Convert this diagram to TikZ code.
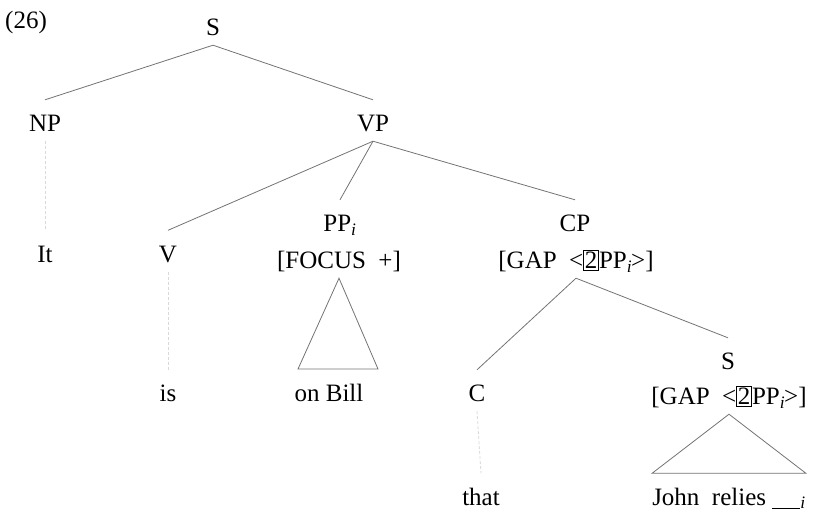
\documentclass[tikz,border=0pt]{standalone}
\usepackage{fontspec}
\setmainfont{Liberation Serif}
\usepackage{tikz}
\setlength{\fboxsep}{1pt}
\setlength{\fboxrule}{0.6pt}
\newcommand{\idx}{\textsubscript{\textit{i}}}
\newcommand{\gapfeat}{[GAP\ \ <\fbox{2}PP\idx\kern-1pt>]}

\begin{document}
\begin{tikzpicture}[x=1pt,y=-1pt,every node/.style={font=\fontsize{25}{30}\selectfont,anchor=base,text height=24pt,text depth=2pt,inner xsep=0pt,inner ysep=7.5pt},branch/.style={draw=black!55,line width=0.8pt},unary/.style={draw=black!15,line width=0.8pt,densely dashed}]
  \useasboundingbox (0,0) rectangle (816,512);
  %top
  \node[anchor=base west] (num) at (5,28) {(26)};
  \node (s) at (213,35.5) {S};
  \node (np) at (45,131.5) {NP};
  \node (vp) at (373,131.5) {VP};
  \draw[branch] (s.south) -- (np.north);
  \draw[branch] (s.south) -- (vp.north);

  %left
  \node (it) at (45,262) {It};
  \node (v) at (168,262) {V};
  \node (is) at (168,401.5) {is};
  \draw[unary] (np.south) -- (it.north);
  \draw[branch] (vp.south) -- (v.north);
  \draw[unary] (v.south) -- (is.north);

  %middle
  \node (pp) at (340,231.5) {PP\idx};
  \node (ppf) at (339,268.5) {[FOCUS\ \ +]};
  \node (onbill) at (329,401.5) {on\ Bill};
  \coordinate (pl) at (298,369);
  \coordinate (pr) at (378,369);
  \draw[branch] (vp.south) -- (pp.north);
  \draw[branch] (ppf.south) -- (pl) -- (pr) -- cycle;

  %right
  \node (cp) at (575,231.5) {CP};
  \node (cpf) at (576,268.5) {\gapfeat};
  \node (c) at (477,401.5) {C};
  \node (that) at (481,505) {that};
  \node (s2) at (728,369.5) {S};
  \node (sf) at (729,404.5) {\gapfeat};
  \node (jr) at (729,505) {John\ \ relies\ \rule[-4pt]{28pt}{1.2pt}\idx};
  \draw[branch] (vp.south) -- (cp.north);
  \draw[branch] (cpf.south) -- (c.north);
  \draw[branch] (cpf.south) -- (s2.north);
  \draw[unary] (c.south) -- (that.north);
  \draw[branch] (sf.south) -- (jr.north west) -- (jr.north east) -- cycle;
\end{tikzpicture}
\end{document}
